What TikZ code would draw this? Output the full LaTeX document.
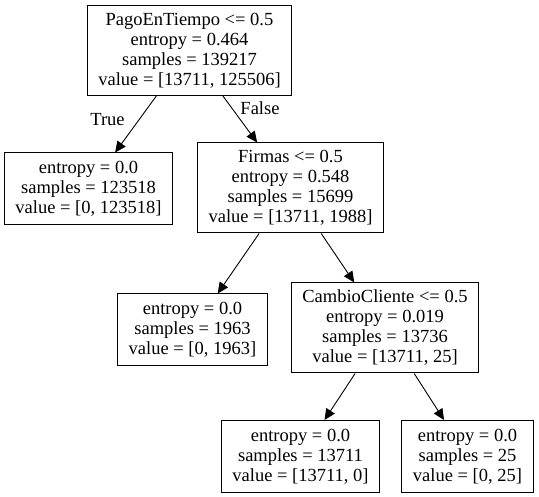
\documentclass[tikz,border=0pt]{standalone}
\usepackage{fontspec}
\setmainfont{Liberation Serif}
\usetikzlibrary{arrows.meta}
\tikzset{
    split/.style={
        draw, rectangle, line width=1pt,
        minimum height=90pt, inner xsep=11pt,
        align=center, text=black
    },
    leaf/.style={
        split, minimum height=72pt
    },
    connect/.style={-{Triangle[length=11pt,width=10pt]}, line width=0.9pt},
    branch/.style={inner sep=0pt}
}
\begin{document}
\begin{tikzpicture}[x=1pt,y=-1pt,font=\fontsize{18.5}{20}\selectfont]
	\useasboundingbox (0,0) rectangle (539,497);

	\node[split] (root)   at (189.5,50.5) {PagoEnTiempo <= 0.5\\entropy = 0.464\\samples = 139217\\value = [13711, 125506]};
	\node[leaf]  (leafA)  at (88.5,189)   {entropy = 0.0\\samples = 123518\\value = [0, 123518]};
	\node[split] (firmas) at (290.5,188)  {Firmas <= 0.5\\entropy = 0.548\\samples = 15699\\value = [13711, 1988]};
	\node[leaf]  (leafB)  at (192.5,330)  {entropy = 0.0\\samples = 1963\\value = [0, 1963]};
	\node[split] (cambio) at (385,328)    {CambioCliente <= 0.5\\entropy = 0.019\\samples = 13736\\value = [13711, 25]};
	\node[leaf]  (leafC)  at (300.5,456.5) {entropy = 0.0\\samples = 13711\\value = [13711, 0]};
	\node[leaf]  (leafD)  at (467.5,456.5) {entropy = 0.0\\samples = 25\\value = [0, 25]};

	\node[branch] (truelbl)  at (107.5,120) {True};
	\node[branch] (falselbl) at (260,108)   {False};

	\draw[connect] (root) -- (leafA);
	\draw[connect] (root) -- (firmas);
	\draw[connect] (firmas) -- (leafB);
	\draw[connect] (firmas) -- (cambio);
	\draw[connect] (cambio) -- (leafC);
	\draw[connect] (cambio) -- (leafD);
\end{tikzpicture}
\end{document}
